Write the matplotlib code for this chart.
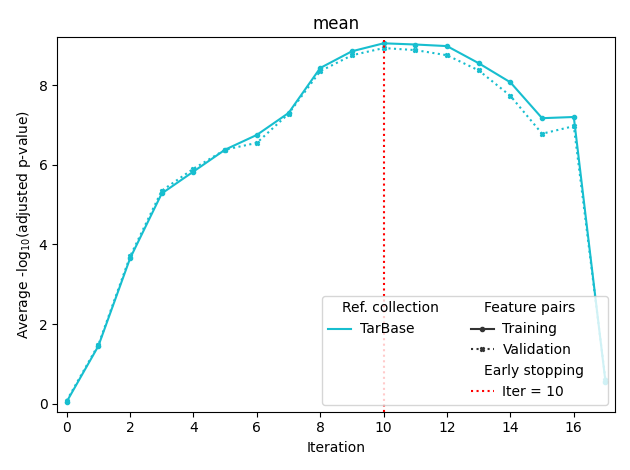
import matplotlib
matplotlib.use("Agg")
import matplotlib.pyplot as plt
from matplotlib.lines import Line2D

iters = list(range(18))
training = [0.05, 1.45, 3.65, 5.28, 5.83, 6.38, 6.75, 7.3, 8.43, 8.85, 9.05, 9.02, 8.98, 8.55, 8.07, 7.17, 7.2, 0.55]
validation = [0.08, 1.48, 3.7, 5.35, 5.9, 6.38, 6.55, 7.28, 8.35, 8.75, 8.93, 8.88, 8.75, 8.37, 7.73, 6.78, 6.97, 0.6]
stop_iter = 10
color = "#17becf"

fig, ax = plt.subplots(figsize=(6.3, 4.7), dpi=100)
ax.plot(iters, training, color=color, ls="-", marker="o", ms=3)
ax.plot(iters, validation, color=color, ls=":", marker="X", ms=3)
ax.axvline(stop_iter, color="red", ls=":")
ax.set_xlim(-0.3, 17.3)
ax.set_ylim(-0.2, 9.2)
ax.set_xticks(range(0, 17, 2))
ax.set_title("mean")
ax.set_xlabel("Iteration")
ax.set_ylabel("Average -log$_{10}$(adjusted p-value)")

blank = Line2D([], [], visible=False)
handles = [blank, Line2D([], [], color=color), blank, blank, blank,
           blank, Line2D([], [], color="#333333", marker="o", ms=3),
           Line2D([], [], color="#333333", ls=":", marker="X", ms=3),
           blank, Line2D([], [], color="red", ls=":")]
labels = ["Ref. collection", "TarBase", "", "", "",
          "Feature pairs", "Training", "Validation", "Early stopping", "Iter = 10"]
leg = ax.legend(handles, labels, ncol=2, loc="lower right", framealpha=0.8,
                handlelength=1.7, columnspacing=1.0, handletextpad=0.6)
for t in leg.get_texts():
    if t.get_text() in ("Ref. collection", "Feature pairs", "Early stopping"):
        t.set_x(-18)
fig.tight_layout()
fig.savefig("out.png")
